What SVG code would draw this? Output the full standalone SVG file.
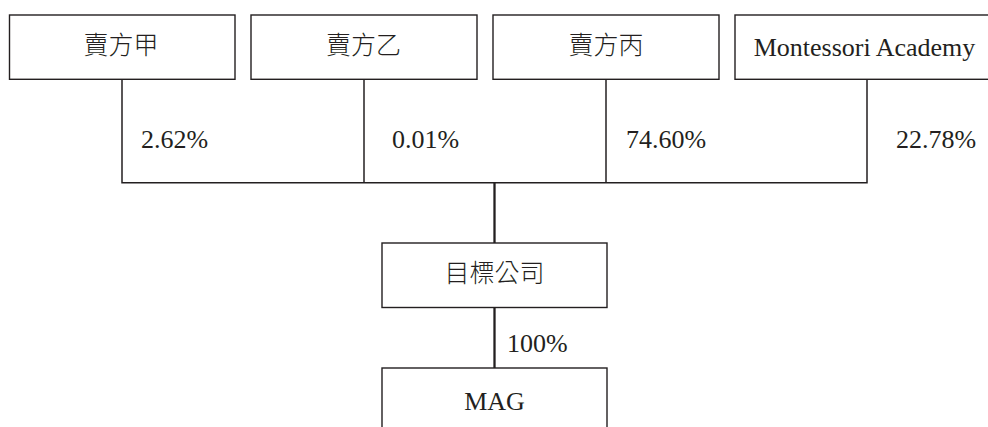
<svg xmlns="http://www.w3.org/2000/svg" width="988" height="427" viewBox="0 0 988 427">
<style>
.box{fill:#fff;stroke:#231f20;stroke-width:1.4}
.ln{fill:none;stroke:#231f20;stroke-width:1.5}
.thick{fill:none;stroke:#231f20;stroke-width:2.3}
.cjk{font-family:"Liberation Serif","Noto Sans CJK TC",serif;font-size:25px;font-weight:300;fill:#231f20}
.lat{font-family:"Liberation Serif",serif;font-size:26px;fill:#231f20}
</style>
<rect width="988" height="427" fill="#fff"/>
<g id="connectors">
<polyline class="ln" points="122,79 122,182.7 867,182.7 867,79"/>
<line class="ln" x1="364" y1="79" x2="364" y2="182.7"/>
<line class="ln" x1="606" y1="79" x2="606" y2="182.7"/>
<line class="thick" x1="494.5" y1="182.7" x2="494.5" y2="243"/>
<line class="thick" x1="494.5" y1="307.5" x2="494.5" y2="368"/>
<text class="lat" x="141" y="148">2.62%</text>
<text class="lat" x="392" y="148">0.01%</text>
<text class="lat" x="626" y="148">74.60%</text>
<text class="lat" x="896" y="148">22.78%</text>
<text class="lat" x="507" y="352">100%</text>
</g>
<g id="seller-a">
<rect class="box" x="9.5" y="15" width="225.5" height="64.3"/>
<text class="cjk" x="121" y="54" text-anchor="middle">賣方甲</text>
</g>
<g id="seller-b">
<rect class="box" x="251" y="15" width="226" height="64.3"/>
<text class="cjk" x="363.5" y="54" text-anchor="middle">賣方乙</text>
</g>
<g id="seller-c">
<rect class="box" x="493" y="15" width="226" height="64.3"/>
<text class="cjk" x="606" y="54" text-anchor="middle">賣方丙</text>
</g>
<g id="montessori">
<rect class="box" x="735" y="15" width="262" height="64.3"/>
<text class="lat" x="864.5" y="56" text-anchor="middle">Montessori Academy</text>
</g>
<g id="target">
<rect class="box" x="382" y="243" width="225" height="64.5"/>
<text class="cjk" x="494.5" y="282" text-anchor="middle">目標公司</text>
</g>
<g id="mag">
<rect class="box" x="382" y="368" width="225" height="70"/>
<text class="lat" x="494.5" y="410" text-anchor="middle">MAG</text>
</g>
</svg>
